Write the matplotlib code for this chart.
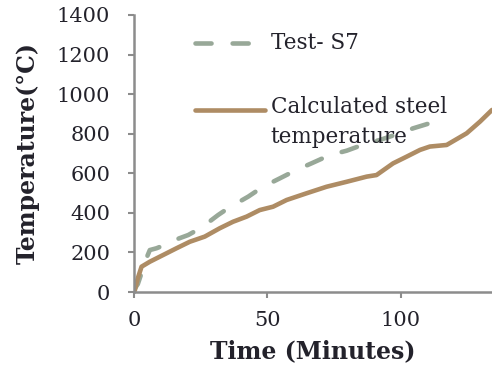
import matplotlib
matplotlib.use("Agg")
import matplotlib.pyplot as plt
from matplotlib.lines import Line2D

# Data
test_time = [0, 1.5, 3.0, 4.7, 6.0, 8.5, 12.0, 15.4, 20.4, 24.0, 27.2, 31.6, 35.0, 38.5,
             42.9, 46.0, 49.8, 54.7, 61.0, 66.6, 73.5, 79.8, 87.3, 92.2, 99.7, 104.7,
             111.0, 116.6]
test_temp = [10, 40, 100, 170, 212, 221, 240, 263, 288, 315, 344, 389, 420, 448,
             482, 510, 541, 574, 617, 650, 692, 714, 751, 768, 802, 827, 853, 878]

calc_time = [0, 0.4, 1.5, 2.9, 6.0, 11.0, 16.0, 21.0, 26.6, 32.2, 37.2, 42.3, 47.2, 52.2,
             57.3, 64.8, 72.3, 79.8, 87.3, 91.0, 97.2, 102.3, 107.3, 111.0, 117.3, 124.8,
             129.8, 134.3]
calc_temp = [0, 10, 70, 128, 153, 187, 221, 254, 280, 322, 355, 381, 414, 431,
             465, 499, 532, 557, 583, 591, 650, 684, 718, 735, 743, 802, 861, 920]

label_test = "Test- S7"
label_calc = "Calculated steel\ntemperature"
x_label = "Time (Minutes)"
y_label = "Temperature(°C)"
x_ticks = [0, 50, 100]
y_ticks = [0, 200, 400, 600, 800, 1000, 1200, 1400]

col_test = "#98A898"
col_calc = "#AE8C64"
txt = "#23222B"
spine = "#8C8C8C"

plt.rcParams['font.family'] = ['DejaVu Serif']

fig = plt.figure(figsize=(4.92, 3.65), dpi=100)
ax = fig.add_axes([0.272, 0.2, 0.728, 0.759])

lw = 3.3
ax.plot(test_time, test_temp, color=col_test, lw=lw, dashes=(3.5, 4.6),
        dash_capstyle='round', solid_capstyle='round')
ax.plot(calc_time, calc_temp, color=col_calc, lw=lw, solid_capstyle='round',
        solid_joinstyle='round')

ax.set_xlim(0, 134.3)
ax.set_ylim(0, 1400)
ax.set_xticks(x_ticks)
ax.set_yticks(y_ticks)

for s in ['top', 'right']:
    ax.spines[s].set_visible(False)
for s in ['left', 'bottom']:
    ax.spines[s].set_color(spine)
    ax.spines[s].set_linewidth(1.8)

ax.tick_params(axis='both', direction='out', length=4, width=1.5, color=spine,
               labelcolor=txt, labelsize=15)
ax.tick_params(axis='y', pad=13)
ax.tick_params(axis='x', pad=10)

ax.set_xlabel(x_label, fontsize=17, fontweight='bold', color=txt, va='center')
ax.set_ylabel(y_label, fontsize=17, fontweight='bold', color=txt, va='center')
ax.xaxis.set_label_coords(0.5, -0.213)
ax.yaxis.set_label_coords(-0.296, 0.5)

# Manual legend
tr = ax.transAxes
ax.add_line(Line2D([0.17, 0.366], [0.899, 0.899], transform=tr, color=col_test, lw=lw,
                   dashes=(3.5, 4.6), dash_capstyle='round'))
ax.add_line(Line2D([0.17, 0.366], [0.657, 0.657], transform=tr, color=col_calc, lw=lw,
                   solid_capstyle='round'))
ax.text(0.382, 0.899, label_test, transform=tr, fontsize=15.5, color=txt, va='center', ha='left')
ax.text(0.382, 0.708, label_calc, transform=tr, fontsize=15.5, color=txt, va='top', ha='left',
        linespacing=1.45)

fig.savefig("out.png", dpi=100)
